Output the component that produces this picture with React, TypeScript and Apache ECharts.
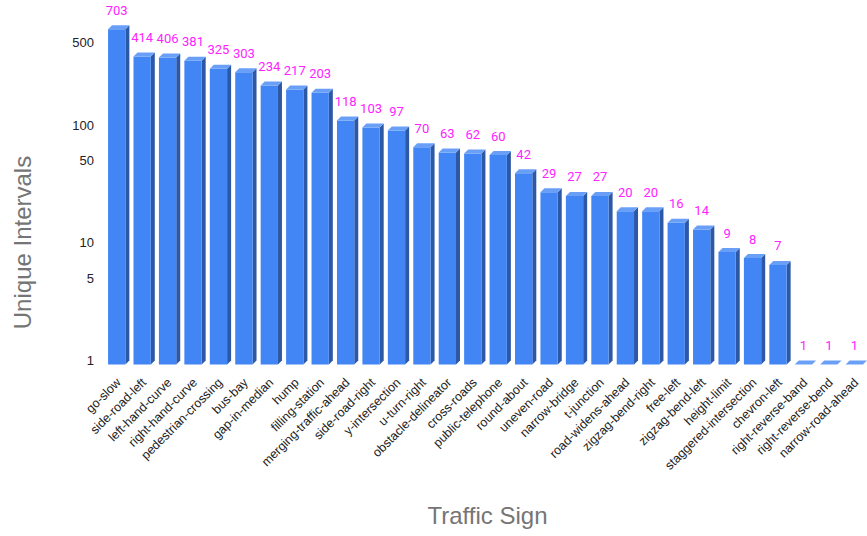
import React, { useEffect, useRef } from "react";
import * as echarts from "echarts";

const categories: string[] = [
  "go-slow", "side-road-left", "left-hand-curve", "right-hand-curve", "pedestrian-crossing",
  "bus-bay", "gap-in-median", "hump", "filling-station", "merging-traffic-ahead",
  "side-road-right", "y-intersection", "u-turn-right", "obstacle-delineator", "cross-roads",
  "public-telephone", "round-about", "uneven-road", "narrow-bridge", "t-junction",
  "road-widens-ahead", "zigzag-bend-right", "free-left", "zigzag-bend-left", "height-limit",
  "staggered-intersection", "chevron-left", "right-reverse-band", "right-reverse-bend", "narrow-road-ahead",
];

const counts: number[] = [
  703, 414, 406, 381, 325, 303, 234, 217, 203, 118,
  103, 97, 70, 63, 62, 60, 42, 29, 27, 27,
  20, 20, 16, 14, 9, 8, 7, 1, 1, 1,
];

const yTickValues: number[] = [1, 5, 10, 50, 100, 500];

const FRONT = "#4285f4";
const SIDE = "#2c58a6";
const TOP = "#6a9ff7";

export default function App() {
  const ref = useRef<HTMLDivElement>(null);

  useEffect(() => {
    if (!ref.current) return;
    const chart = echarts.init(ref.current, undefined, { renderer: "svg" });
    const data = counts.map((v, i) => [i, Math.log10(v), v]);

    const option: any = {
      animation: false,
      backgroundColor: "#ffffff",
      grid: {
        left: 106,
        right: -2,
        top: 7.3,
        bottom: 175.6,
        containLabel: false,
        outerBoundsMode: "none",
      },
      graphic: [
        {
          type: "text",
          x: 22,
          y: 242.5,
          rotation: Math.PI / 2,
          style: {
            text: "Unique Intervals",
            align: "center",
            verticalAlign: "middle",
            fontSize: 24,
            fill: "#757575",
            fontFamily: "Liberation Sans, Arial, sans-serif",
          },
        },
      ],
      xAxis: {
        type: "category",
        data: categories,
        boundaryGap: true,
        axisLine: { show: false },
        axisTick: { show: false },
        splitLine: { show: false },
        axisLabel: {
          rotate: 45,
          interval: 0,
          margin: 20,
          fontSize: 12.5,
          color: "#222222",
          fontFamily: "Liberation Sans, Arial, sans-serif",
        },
        name: "Traffic Sign",
        nameLocation: "middle",
        nameGap: 143,
        nameTextStyle: {
          fontSize: 24,
          color: "#757575",
          fontFamily: "Liberation Sans, Arial, sans-serif",
        },
      },
      yAxis: {
        type: "value",
        min: 0,
        max: 3,
        axisLine: { show: false },
        axisTick: { show: false },
        splitLine: { show: false },
        axisLabel: {
          customValues: yTickValues.map((v) => Math.log10(v)),
          formatter: (val: number) => String(Math.round(Math.pow(10, val))),
          margin: 12,
          fontSize: 13,
          color: "#222222",
          fontFamily: "Liberation Sans, Arial, sans-serif",
        },
      },
      series: [
        {
          type: "custom",
          clip: false,
          encode: { x: 0, y: 1 },
          data,
          renderItem: (params: any, api: any) => {
            const i = api.value(0);
            const lv = api.value(1);
            const raw = api.value(2);
            const top = api.coord([i, lv]);
            const base = api.coord([i, 0]);
            const band = api.size([1, 0])[0];
            const w = band * 0.68;
            const dx = 4;
            const dy = 4;
            const fl = top[0] - 2 - w / 2;
            const fr = fl + w;
            const ft = top[1] + 4;
            const fb = base[1] + 4;
            return {
              type: "group",
              children: [
                {
                  type: "polygon",
                  shape: { points: [[fr, ft], [fr + dx, ft - dy], [fr + dx, fb - dy], [fr, fb]] },
                  style: { fill: SIDE },
                },
                {
                  type: "rect",
                  shape: { x: fl, y: ft, width: w, height: fb - ft },
                  style: { fill: FRONT },
                },
                {
                  type: "polygon",
                  shape: { points: [[fl, ft], [fl + dx, ft - dy], [fr + dx, ft - dy], [fr, ft]] },
                  style: { fill: TOP },
                },
                {
                  type: "text",
                  style: {
                    x: fl + w / 2,
                    y: ft - 19,
                    text: String(raw),
                    align: "center",
                    verticalAlign: "middle",
                    fill: "#ff22ff",
                    fontSize: 13,
                    fontFamily: "Roboto, sans-serif",
                  },
                },
              ],
            };
          },
        },
      ],
    };

    chart.setOption(option);
    return () => chart.dispose();
  }, []);

  return (
    <div
      ref={ref}
      style={{ position: "fixed", left: 0, top: 0, width: 867, height: 536, background: "#fff" }}
    />
  );
}
